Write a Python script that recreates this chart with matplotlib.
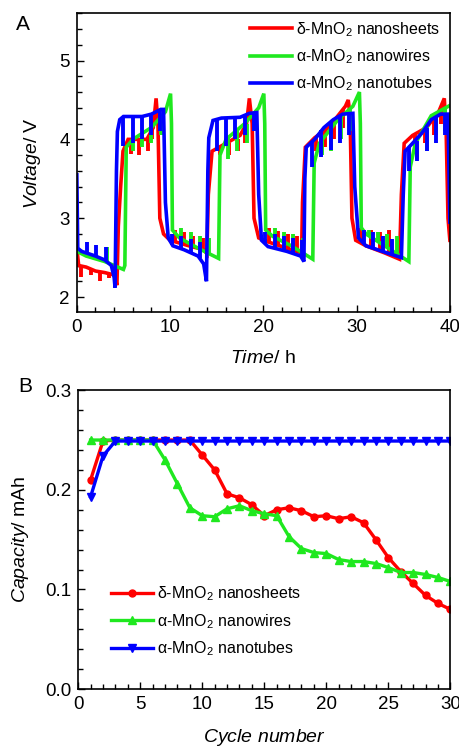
import matplotlib
matplotlib.use("Agg")
import matplotlib.pyplot as plt
from matplotlib.ticker import MultipleLocator

plt.rcParams["font.family"] = ["Liberation Sans", "DejaVu Sans"]
plt.rcParams["mathtext.fontset"] = "custom"
plt.rcParams["mathtext.rm"] = "Liberation Sans"
plt.rcParams["mathtext.it"] = "Liberation Sans:italic"

RED, GREEN, BLUE = "#ff0000", "#1fe81f", "#0000ff"
labels = ["δ-MnO$_2$ nanosheets", "α-MnO$_2$ nanowires", "α-MnO$_2$ nanotubes"]

# --- panel A: voltage vs time (baseline points) ---
red_t = [0.0, 0.2, 1.0, 2.0, 3.0, 4.0, 4.3, 4.45, 4.7, 4.95, 5.5, 7.5, 8.2, 8.5, 8.7, 8.9, 9.3, 10.0, 12.0,
         13.6, 13.95, 14.1, 14.5, 16.0, 17.5, 18.2, 18.5, 18.8, 19.0, 19.5, 20.5, 22.5, 24.1, 24.2, 24.5,
         25.5, 27.0, 28.0, 28.8, 29.1, 29.3, 29.5, 29.9, 31.0, 33.0, 34.6, 34.8, 35.1, 36.0, 37.5, 38.8,
         39.4, 39.6, 39.8, 40.0]
red_v = [2.62, 2.40, 2.38, 2.33, 2.31, 2.28, 2.15, 2.9, 3.4, 3.85, 4.0, 4.0, 4.15, 4.52, 4.2, 3.0, 2.8, 2.72, 2.65,
         2.6, 2.55, 3.3, 3.85, 3.95, 4.05, 4.2, 4.52, 4.2, 3.0, 2.75, 2.7, 2.62, 2.56, 3.2, 3.9,
         4.02, 4.15, 4.3, 4.42, 4.5, 4.3, 3.0, 2.72, 2.65, 2.56, 2.48, 3.3, 3.95, 4.05, 4.15, 4.35,
         4.52, 4.1, 3.0, 2.72]
# pulses: (time, baseline voltage, tip voltage)
red_spikes = [(0.5, 2.38, 2.25), (1.5, 2.36, 2.28), (2.5, 2.33, 2.20), (3.5, 2.30, 2.24),
              (5.8, 4.0, 3.82), (6.7, 4.0, 3.80), (7.6, 4.02, 3.85), (8.1, 4.12, 4.0),
              (10.5, 2.70, 2.85), (11.5, 2.67, 2.82), (12.5, 2.64, 2.78), (13.5, 2.60, 2.75),
              (15.3, 3.90, 3.80), (16.3, 3.95, 3.80), (17.3, 4.0, 3.85), (18.0, 4.12, 3.95),
              (20.6, 2.70, 2.87), (21.6, 2.66, 2.84), (22.6, 2.62, 2.80), (23.6, 2.58, 2.77),
              (25.6, 4.02, 3.85), (26.6, 4.10, 3.90), (27.6, 4.25, 4.0), (28.5, 4.38, 4.15),
              (30.5, 2.68, 2.87), (31.5, 2.64, 2.85), (32.5, 2.60, 2.82), (33.5, 2.55, 2.85),
              (36.3, 4.07, 3.90), (37.3, 4.13, 3.95), (38.3, 4.28, 4.05), (39.0, 4.42, 4.2)]

green_t = [0.0, 1.0, 3.0, 5.0, 5.15, 5.3, 6.0, 8.0, 9.5, 10.05, 10.15, 10.25, 11.0, 13.0, 15.2, 15.35,
           16.0, 18.0, 19.5, 20.05, 20.15, 20.25, 21.0, 23.0, 25.3, 25.45, 26.0, 28.0, 29.6, 30.3, 30.4,
           30.5, 31.0, 33.0, 35.6, 35.75, 36.3, 38.0, 40.0]
green_v = [2.58, 2.52, 2.45, 2.35, 2.4, 3.9, 4.0, 4.15, 4.35, 4.58, 4.2, 2.85, 2.75, 2.62, 2.49, 3.8,
           4.0, 4.2, 4.4, 4.58, 4.2, 2.85, 2.77, 2.65, 2.48, 3.7, 3.95, 4.25, 4.42, 4.6, 4.2,
           2.88, 2.8, 2.65, 2.45, 3.65, 3.95, 4.3, 4.43]
green_spikes = [(3.2, 2.44, 2.63),
                (6.0, 4.0, 3.85), (7.0, 4.08, 3.90), (8.0, 4.15, 3.95), (9.0, 4.30, 4.05),
                (11.2, 2.74, 2.88), (12.2, 2.68, 2.83), (13.2, 2.60, 2.78), (14.2, 2.55, 2.75),
                (16.2, 4.02, 3.75), (17.2, 4.10, 3.85), (18.2, 4.20, 3.95), (19.2, 4.35, 4.1),
                (21.2, 2.76, 2.88), (22.2, 2.70, 2.83), (23.2, 2.64, 2.80), (24.2, 2.55, 2.75),
                (26.3, 3.98, 3.80), (27.3, 4.15, 3.85), (28.3, 4.27, 4.0), (29.3, 4.40, 4.1),
                (31.3, 2.78, 2.85), (32.3, 2.70, 2.82), (33.3, 2.64, 2.80), (34.3, 2.55, 2.78),
                (36.5, 3.97, 3.75), (37.5, 4.20, 3.85), (38.5, 4.33, 4.05), (39.5, 4.40, 4.1)]

blue_t = [0.0, 0.1, 0.5, 2.0, 3.0, 3.7, 4.0, 4.1, 4.25, 4.35, 4.6, 5.0, 7.0, 8.0, 9.0, 9.3, 9.5, 9.8,
          10.3, 11.5, 13.0, 13.6, 13.9, 14.05, 14.15, 14.6, 15.5, 17.5, 18.5, 19.3, 19.5, 19.8, 20.5,
          22.5, 24.0, 24.35, 24.45, 24.6, 25.5, 26.5, 27.5, 28.5, 29.6, 29.8, 30.2, 31.0, 33.0, 34.8,
          35.0, 35.2, 36.0, 37.0, 38.0, 39.0, 39.8, 40.0]
blue_v = [3.55, 2.62, 2.58, 2.52, 2.47, 2.40, 2.25, 2.12, 3.6, 4.1, 4.25, 4.29, 4.29, 4.32, 4.38, 4.38, 3.2, 2.75,
          2.65, 2.60, 2.52, 2.42, 2.20, 3.6, 4.02, 4.24, 4.27, 4.28, 4.33, 4.34, 3.3, 2.72, 2.64,
          2.58, 2.52, 2.45, 3.5, 3.9, 4.0, 4.15, 4.25, 4.32, 4.33, 3.4, 2.75, 2.65, 2.57, 2.50,
          3.3, 3.85, 3.95, 4.08, 4.25, 4.32, 4.32, 2.95]
blue_spikes = [(1.1, 2.57, 2.70), (2.1, 2.52, 2.66), (3.1, 2.47, 2.63),
               (5.0, 4.29, 3.92), (6.0, 4.29, 3.95), (7.0, 4.29, 4.0), (8.0, 4.32, 4.05), (8.9, 4.37, 4.1),
               (10.2, 2.66, 2.80), (11.2, 2.61, 2.77), (12.2, 2.56, 2.74), (13.2, 2.50, 2.70),
               (15.0, 4.26, 3.85), (16.0, 4.27, 3.92), (17.0, 4.28, 4.0), (18.0, 4.30, 4.05), (19.0, 4.33, 4.1),
               (20.2, 2.68, 2.83), (21.2, 2.62, 2.80), (22.2, 2.58, 2.77), (23.2, 2.55, 2.75), (24.1, 2.50, 2.72),
               (25.2, 3.98, 3.65), (26.2, 4.12, 3.78), (27.2, 4.22, 3.87), (28.2, 4.30, 3.95), (29.2, 4.33, 4.05),
               (30.8, 2.67, 2.85), (31.8, 2.62, 2.82), (32.8, 2.58, 2.78), (33.8, 2.54, 2.74),
               (35.6, 3.90, 3.60), (36.5, 3.98, 3.73), (37.5, 4.15, 3.85), (38.5, 4.28, 3.95), (39.5, 4.32, 4.05)]

# --- panel B: capacity vs cycle ---
cycles = list(range(1, 31))
cap_sheets = [0.210, 0.249, 0.250, 0.250, 0.250, 0.250, 0.250, 0.250, 0.250, 0.235,
              0.220, 0.196, 0.192, 0.185, 0.174, 0.180, 0.182, 0.179, 0.173, 0.174,
              0.171, 0.173, 0.167, 0.150, 0.132, 0.118, 0.106, 0.094, 0.086, 0.080]
cap_wires = [0.250, 0.250, 0.250, 0.250, 0.250, 0.250, 0.230, 0.206, 0.182, 0.174,
             0.173, 0.181, 0.184, 0.179, 0.176, 0.174, 0.153, 0.141, 0.137, 0.136,
             0.130, 0.128, 0.128, 0.126, 0.122, 0.117, 0.117, 0.115, 0.112, 0.108]
cap_tubes = [0.193, 0.234] + [0.249] * 28


def style(ax):
    ax.tick_params(which="both", direction="in", top=False, right=False, labelsize=13.5, pad=5)
    ax.tick_params(which="major", length=5, width=1)
    ax.tick_params(which="minor", length=3.5, width=1)
    for s in ax.spines.values():
        s.set_linewidth(1.2)


fig = plt.figure(figsize=(4.6, 7.47), dpi=100)

ax = fig.add_axes([0.167, 0.5823, 0.811, 0.400])
for (t, v, sp, c, lab) in [(red_t, red_v, red_spikes, RED, labels[0]),
                           (green_t, green_v, green_spikes, GREEN, labels[1]),
                           (blue_t, blue_v, blue_spikes, BLUE, labels[2])]:
    ax.plot(t, v, color=c, lw=2.6, label=lab, solid_joinstyle="miter")
    ax.vlines([s[0] for s in sp], [s[1] for s in sp], [s[2] for s in sp], color=c, lw=2.8)
ax.set_xlim(0, 40); ax.set_ylim(1.81, 5.6)
ax.xaxis.set_major_locator(MultipleLocator(10)); ax.xaxis.set_minor_locator(MultipleLocator(2))
ax.yaxis.set_major_locator(MultipleLocator(1)); ax.yaxis.set_minor_locator(MultipleLocator(0.2))
style(ax)
ax.set_xlabel(r"$\it{Time/}$ h", fontsize=14, labelpad=10)
ax.set_ylabel(r"$\it{Voltage/}$ V", fontsize=14, labelpad=12)
ax.legend(loc="upper right", bbox_to_anchor=(1.0, 1.01), frameon=False, fontsize=11.5,
          handlelength=2.6, handletextpad=0.25, labelspacing=0.55, borderaxespad=0.2)
fig.text(0.05, 0.967, "A", fontsize=15, ha="center", va="center")

bx = fig.add_axes([0.170, 0.0776, 0.809, 0.400])
bx.plot(cycles, cap_sheets, color=RED, lw=2.4, marker="o", ms=5, label=labels[0])
bx.plot(cycles, cap_wires, color=GREEN, lw=2.4, marker="^", ms=5.5, label=labels[1])
bx.plot(cycles, cap_tubes, color=BLUE, lw=2.4, marker="v", ms=5.5, label=labels[2])
bx.set_xlim(0, 30); bx.set_ylim(0, 0.3)
bx.xaxis.set_major_locator(MultipleLocator(5)); bx.xaxis.set_minor_locator(MultipleLocator(1))
bx.yaxis.set_major_locator(MultipleLocator(0.1)); bx.yaxis.set_minor_locator(MultipleLocator(0.02))
style(bx)
bx.set_xlabel(r"$\it{Cycle\ number}$", fontsize=14, labelpad=10)
bx.set_ylabel(r"$\it{Capacity/}$ mAh", fontsize=14, labelpad=10)
bx.legend(loc="lower left", bbox_to_anchor=(0.05, 0.055), frameon=False, fontsize=11.5,
          handlelength=2.6, handletextpad=0.25, labelspacing=0.55, numpoints=1)
fig.text(0.055, 0.482, "B", fontsize=15, ha="center", va="center")

fig.savefig("out.png", dpi=100)
